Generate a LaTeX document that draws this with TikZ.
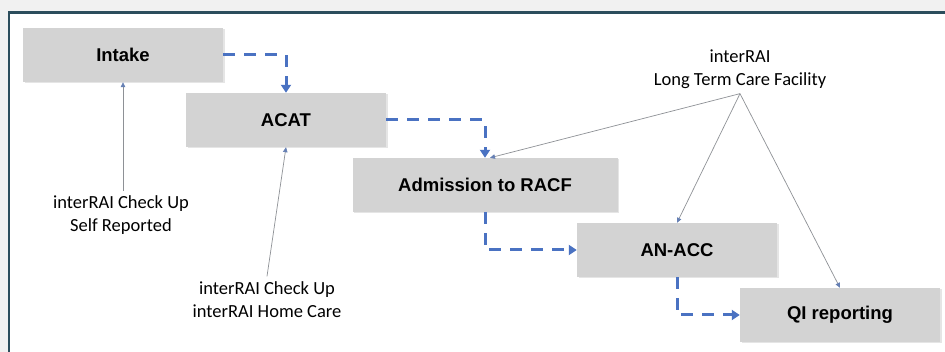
\documentclass[tikz,border=0pt]{standalone}
\usepackage{fontspec}
\setmainfont{Carlito}
\newfontfamily\boxfont{Liberation Sans}
\usetikzlibrary{arrows.meta,shadows}
\definecolor{bggray}{HTML}{F1F1F1}
\definecolor{framecol}{HTML}{2B4D5C}
\definecolor{boxgray}{HTML}{D3D3D3}
\definecolor{flowblue}{HTML}{4A72C2}
\definecolor{feedgray}{HTML}{8E9196}
\definecolor{feedtip}{HTML}{6680B4}
\begin{document}
\begin{tikzpicture}[x=1pt,y=-1pt,
  stepbox/.style={fill=boxgray, minimum width=200pt, minimum height=54pt, inner sep=0pt,
    font=\boxfont\bfseries\fontsize{18.5}{22}\selectfont,
    drop shadow={shadow xshift=1.5pt, shadow yshift=-1.5pt, opacity=0.2}},
  flow/.style={draw=flowblue, line width=3pt, dash pattern=on 12pt off 9pt,
    -{Triangle[length=8pt,width=10pt,color=flowblue]}},
  feed/.style={draw=feedgray, line width=0.7pt,
    -{Triangle[length=5pt,width=4.5pt,color=feedtip]}},
  lbl/.style={font=\fontsize{18.5}{23}\selectfont, align=center, inner sep=5pt}]
\useasboundingbox (0,0) rectangle (945,352);
\fill[bggray] (0,0) rectangle (945,352);
\fill[white] (8,12) rectangle (945,352);
\draw[framecol, line width=2.6pt] (9,353) -- (9,12.5) -- (946,12.5);

\node[stepbox] (intake) at (123,55) {Intake};
\node[stepbox] (acat) at (286,120) {ACAT};
\node[stepbox, minimum width=265pt] (adm) at (485,185) {Admission to RACF};
\node[stepbox] (anacc) at (677,250) {AN-ACC};
\node[stepbox] (qi) at (840,315) {QI reporting};

\draw[flow] (intake.east) -| (acat.north);
\draw[flow] (acat.east) -| (adm.north);
\draw[flow] (adm.south) |- (anacc.west);
\draw[flow] (anacc.south) |- (qi.west);

\node[lbl] (slfr) at (121,215.5) {interRAI Check Up\\Self Reported};
\node[lbl] (hc) at (267,299.5) {interRAI Check Up\\interRAI Home Care};
\node[lbl] (ltc) at (740,69) {interRAI\\Long Term Care Facility};

\draw[feed] (slfr.north -| intake.south) -- (intake.south);
\draw[feed] (hc.north) -- (acat.south);
\draw[feed] (ltc.south) -- ([xshift=5pt]adm.north);
\draw[feed] (ltc.south) -- (anacc.north);
\draw[feed] (ltc.south) -- (qi.north);
\end{tikzpicture}
\end{document}
